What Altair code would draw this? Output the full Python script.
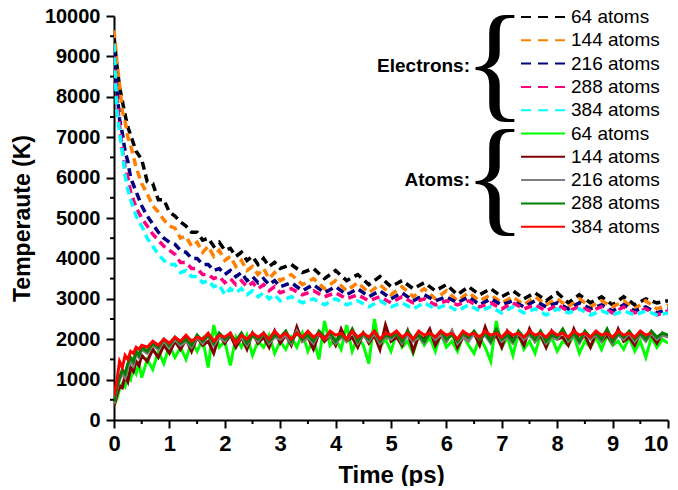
import altair as alt
import pandas as pd

# ---------------- data ----------------
TE = [0, 0.05, 0.1, 0.15, 0.2, 0.25, 0.3, 0.4, 0.5, 0.6, 0.7, 0.8, 0.9, 1.0,
      1.1, 1.2, 1.3, 1.4, 1.5, 1.6, 1.7, 1.8, 1.9, 2.0, 2.1, 2.2, 2.3, 2.4, 2.5,
      2.6, 2.7, 2.8, 2.9, 3.0,
      3.2, 3.4, 3.6, 3.8, 4.0, 4.2, 4.4, 4.6, 4.8, 5.0, 5.2, 5.4, 5.6, 5.8,
      6.0, 6.2, 6.4, 6.6, 6.8, 7.0, 7.2, 7.4, 7.6, 7.8, 8.0, 8.2, 8.4, 8.6,
      8.8, 9.0, 9.2, 9.4, 9.6, 9.8, 10.0]

E64 = [9500, 8800, 8250, 7900, 7550, 7250, 7050, 6650, 6450, 5900, 5850, 5450, 5450, 5150,
       5050, 4900, 4800, 4650, 4650, 4450, 4500, 4300, 4400, 4200, 4250, 4050, 4150, 3950, 4050, 3850, 4000, 3800, 3900, 3750,
       3850, 3650, 3750, 3500, 3700, 3450, 3600, 3350, 3550, 3300, 3450, 3250, 3400, 3200, 3350, 3100, 3300, 3100, 3250, 3050,
       3200, 3000, 3150, 2950, 3150, 2900, 3100, 2900, 3050, 2850, 3050, 2850, 3000, 2900, 2950]
E144 = [9650, 8900, 8300, 7650, 7400, 7000, 6800, 6250, 5850, 5600, 5300, 5150, 4950, 4800,
        4750, 4500, 4550, 4300, 4400, 4150, 4300, 4050, 4200, 3950, 4050, 3800, 3950, 3700, 3800, 3600, 3750, 3500, 3650, 3450,
        3600, 3350, 3500, 3250, 3450, 3200, 3400, 3150, 3350, 3100, 3300, 3050, 3250, 3000, 3200, 2950, 3150, 2950, 3100, 2900,
        3050, 2850, 3050, 2850, 3000, 2800, 3000, 2800, 2950, 2800, 2950, 2750, 2950, 2750, 2850]
E216 = [9100, 8200, 7450, 7100, 6650, 6400, 6000, 5650, 5300, 5050, 4850, 4650, 4500, 4400,
        4350, 4200, 4150, 4000, 4000, 3850, 3850, 3700, 3750, 3600, 3700, 3550, 3650, 3450, 3550, 3400, 3500, 3350, 3450, 3300,
        3400, 3200, 3350, 3150, 3300, 3100, 3250, 3050, 3200, 3000, 3150, 2950, 3100, 2950, 3050, 2900, 3050, 2850, 3000, 2850,
        2950, 2800, 2950, 2800, 2900, 2750, 2900, 2750, 2850, 2700, 2850, 2700, 2800, 2650, 2750]
E288 = [9000, 8000, 7300, 6700, 6250, 6000, 5650, 5250, 5000, 4800, 4600, 4450, 4300, 4200,
        4100, 3900, 3900, 3750, 3750, 3600, 3600, 3500, 3550, 3400, 3500, 3350, 3450, 3300, 3400, 3250, 3350, 3200, 3300, 3150,
        3250, 3100, 3200, 3050, 3150, 3000, 3100, 2950, 3050, 2900, 3050, 2900, 3000, 2850, 2950, 2850, 2950, 2800, 2900, 2750,
        2900, 2750, 2850, 2700, 2850, 2700, 2800, 2700, 2800, 2650, 2800, 2650, 2750, 2600, 2700]
E384 = [9300, 7700, 7100, 6650, 6050, 5700, 5450, 5050, 4800, 4500, 4300, 4100, 3950, 3850,
        3850, 3650, 3700, 3550, 3550, 3400, 3450, 3300, 3350, 3100, 3250, 3150, 3250, 3100, 3200, 3050, 3150, 3000, 3100, 2950,
        3050, 2900, 3000, 2850, 3000, 2850, 2950, 2800, 2950, 2800, 2900, 2750, 2900, 2750, 2850, 2700, 2850, 2700, 2800, 2650,
        2800, 2650, 2750, 2600, 2750, 2650, 2750, 2600, 2700, 2600, 2700, 2600, 2700, 2600, 2650]

TA = [0, 0.05, 0.1, 0.15, 0.2, 0.25, 0.3, 0.35, 0.4, 0.45, 0.5] + [round(0.6 + 0.1 * i, 1) for i in range(95)]

A64 = [350, 520, 760, 900, 820, 1100, 1000, 1300, 1150, 1400, 1050,
       1500, 1250, 1700, 1400, 1850, 1550, 1800, 1500, 1950, 1700,
       2000, 1300, 2350, 1800, 1950, 1350, 2050, 1800, 2100, 1600,
       1950, 1800, 2100, 1650, 1950, 1750, 2050, 1800, 2150, 1700,
       2000, 1500, 2450, 1850, 2000, 1750, 2350, 1700, 2050, 1850,
       1400, 2500, 1800, 2000, 1700, 2150, 1800, 1950, 1650, 2100,
       1850, 2050, 1700, 2150, 1800, 1950, 1700, 2100, 1850, 1650,
       2050, 1800, 1450, 2450, 1800, 2050, 1600, 2150, 1750, 1950,
       1650, 2100, 1800, 2050, 1700, 1950, 1850, 2100, 1650, 1950,
       1800, 2050, 1750, 2100, 1850, 1950, 1750, 2050, 1700, 1950,
       1550, 2050, 1800, 2000, 1900]
A144 = [350, 600, 850, 800, 1100, 950, 1300, 1200, 1450, 1350, 1600,
        1450, 1750, 1550, 1850, 1650, 1950, 1750, 2000, 1700, 2050,
        1850, 1950, 1650, 2100, 1900, 2100, 1800, 2050, 1750, 2150,
        1900, 2050, 1800, 2200, 1900, 2100, 1850, 2300, 1950, 2050,
        1750, 2150, 1950, 2100, 1850, 2250, 1950, 2050, 1800, 2150,
        1900, 2100, 1750, 2350, 1950, 2050, 1850, 2200, 1700, 2100,
        2000, 2250, 1850, 2100, 1950, 2200, 1800, 2050, 2000, 2150,
        1850, 2300, 1950, 2100, 1800, 2200, 2000, 2100, 1850, 2250,
        1950, 2100, 1800, 2200, 2000, 2050, 1850, 2250, 1950, 2100,
        1800, 2150, 1950, 2100, 1900, 2250, 1950, 2050, 1850, 2150,
        2000, 2100, 1900, 2150, 2050]
A216 = [400, 750, 1000, 1150, 1050, 1300, 1450, 1350, 1650, 1550, 1750,
        1650, 1850, 1750, 1950, 1800, 2000, 1850, 1950, 1800, 2050,
        1900, 2100, 1850, 2050, 1950, 2150, 1900, 2050, 1850, 2100,
        1950, 2150, 1900, 2050, 2000, 2100, 1900, 2200, 1950, 2050,
        1900, 2150, 2000, 2100, 1900, 2050, 1950, 2200, 1900, 2100,
        1950, 2150, 1900, 2050, 2000, 2150, 1900, 2100, 1950, 2050,
        1900, 2150, 2000, 2100, 1950, 2200, 1900, 2050, 1950, 2150,
        2000, 2100, 1900, 2200, 1950, 2050, 1900, 2150, 2000, 2100,
        1950, 2150, 1900, 2050, 2000, 2200, 1950, 2100, 1900, 2150,
        2000, 2100, 1950, 2200, 1900, 2100, 2000, 2150, 1950, 2100,
        1950, 2150, 2000, 2100, 2050]
A288 = [450, 800, 1050, 1250, 1150, 1400, 1550, 1450, 1700, 1600, 1800,
        1700, 1900, 1800, 2000, 1850, 2050, 1900, 2000, 1850, 2100,
        1950, 2100, 1900, 2150, 2000, 2100, 1950, 2150, 1900, 2100,
        2000, 2150, 1950, 2100, 2050, 2200, 1950, 2150, 2000, 2100,
        1950, 2200, 2050, 2150, 1950, 2100, 2000, 2250, 1950, 2150,
        2000, 2200, 1950, 2100, 2050, 2150, 1950, 2200, 2000, 2100,
        1950, 2150, 2050, 2200, 2000, 2100, 1950, 2150, 2050, 2200,
        2000, 2150, 1950, 2250, 2000, 2100, 1950, 2200, 2050, 2150,
        2000, 2200, 1950, 2100, 2050, 2250, 2000, 2150, 1950, 2200,
        2050, 2150, 2000, 2250, 1950, 2150, 2050, 2200, 2000, 2150,
        2000, 2200, 2050, 2150, 2100]
A384 = [600, 950, 1450, 1300, 1600, 1500, 1700, 1650, 1800, 1750, 1850,
        1800, 1950, 1850, 2000, 1900, 2050, 1950, 2100, 1950, 2050,
        2000, 2150, 1950, 2100, 2050, 2150, 1900, 2100, 2000, 2150,
        2050, 2150, 2000, 2200, 2050, 2150, 2000, 2150, 2050, 2200,
        2050, 2150, 2000, 2200, 2100, 2150, 2000, 2200, 2050, 2150,
        2050, 2200, 2000, 2150, 2100, 2200, 2050, 2150, 2000, 2200,
        2100, 2150, 2050, 2200, 2100, 2150, 2000, 2200, 2100, 2150,
        2050, 2200, 2100, 2150, 2050, 2200, 2100, 2150, 2050, 2200,
        2100, 2150, 2050, 2200, 2100, 2150, 2050, 2200, 2100, 2150,
        2050, 2200, 2100, 2150, 2050, 2200, 2100, 2150, 2050, 2200,
        2100, 2150]

SIZES = ["64 atoms", "144 atoms", "216 atoms", "288 atoms", "384 atoms"]
E_SERIES = [E64, E144, E216, E288, E384]
A_SERIES = [A64, A144, A216, A288, A384]
E_COLORS = ["#000000", "#ff8000", "#000080", "#ff0080", "#00ffff"]
A_COLORS = ["#00ff00", "#800000", "#808080", "#008000", "#ff0000"]

X_TICKS = list(range(0, 11))
Y_TICKS = list(range(0, 10001, 1000))
X_MINOR = [0.5, 1.5, 2.5, 3.5, 4.5, 5.5, 6.5, 7.5, 8.5, 9.5]
Y_MINOR = [500, 1500, 2500, 3500, 4500, 5500, 6500, 7500, 8500, 9500]

# ---------------- layout ----------------
W, H = 554, 404
FONT = "Liberation Sans"
DASH = [8, 5]

x_scale = alt.Scale(domain=[0, 10], nice=False, zero=False)
y_scale = alt.Scale(domain=[0, 10000], nice=False)

common = dict(domainColor="black", domainWidth=2, tickColor="black", tickWidth=2,
              tickSize=8, labelFont=FONT, labelFontWeight="bold", labelColor="black",
              titleFont=FONT, titleFontWeight="bold", titleColor="black", grid=False,
              labelFlush=False, labelOverlap=False)
x_axis = alt.Axis(values=X_TICKS, format="d", labelFontSize=22, titleFontSize=24,
                  labelPadding=5, titlePadding=9,
                  labelAlign={"condition": {"test": "datum.value >= 10", "value": "right"},
                              "value": "center"},
                  **common)
y_axis = alt.Axis(values=Y_TICKS, format="d", labelFontSize=20, titleFontSize=23,
                  labelPadding=6, titlePadding=10, **common)

X = alt.X("t:Q", scale=x_scale, axis=x_axis, title="Time (ps)")
Y = alt.Y("T:Q", scale=y_scale, axis=y_axis, title="Temperaute (K)")

layers = []
for vals, col in zip(E_SERIES, E_COLORS):
    df = pd.DataFrame({"t": TE[:len(vals)], "T": vals})
    layers.append(alt.Chart(df).mark_line(color=col, strokeWidth=3.5, strokeDash=DASH,
                                          clip=True).encode(x=X, y=Y))
for vals, col in zip(A_SERIES, A_COLORS):
    df = pd.DataFrame({"t": TA[:len(vals)], "T": vals})
    layers.append(alt.Chart(df).mark_line(color=col, strokeWidth=3,
                                          clip=True).encode(x=X, y=Y))

# minor ticks
layers.append(alt.Chart(pd.DataFrame({"t": X_MINOR})).mark_rule(color="black", strokeWidth=2)
              .encode(x=X, y=alt.value(H), y2=alt.value(H + 4)))
layers.append(alt.Chart(pd.DataFrame({"T": Y_MINOR})).mark_rule(color="black", strokeWidth=2)
              .encode(y=Y, x=alt.value(-4), x2=alt.value(0)))

# legend (manual, pixel layout)
dummy = pd.DataFrame({"a": [0]})
ROW0, GAP = 1, 23.3
LX0, LX1, LTX = 407, 451, 457
labels = SIZES + SIZES
colors = E_COLORS + A_COLORS
for i, (lab, col) in enumerate(zip(labels, colors)):
    yy = ROW0 + GAP * i
    kw = dict(color=col, strokeWidth=2)
    if i < 5:
        kw["strokeDash"] = [10, 7]
    layers.append(alt.Chart(dummy).mark_rule(**kw).encode(
        x=alt.value(LX0), x2=alt.value(LX1), y=alt.value(yy)))
    layers.append(alt.Chart(dummy).mark_text(
        text=lab, font=FONT, fontSize=19, color="black", align="left",
        baseline="middle").encode(x=alt.value(LTX), y=alt.value(yy)))

for lab, yc in [("Electrons:", ROW0 + GAP * 2 + 2), ("Atoms:", ROW0 + GAP * 7)]:
    layers.append(alt.Chart(dummy).mark_text(
        text=lab, font=FONT, fontSize=19, fontWeight="bold", color="black",
        align="right", baseline="middle").encode(x=alt.value(356), y=alt.value(yc)))
    layers.append(alt.Chart(dummy).mark_text(
        text="{", font="Liberation Serif", fontSize=130, color="black",
        align="center", baseline="middle").encode(x=alt.value(381), y=alt.value(yc)))

chart = alt.layer(*layers).properties(
    width=W, height=H,
    autosize=alt.AutoSizeParams(type="none"),
    padding={"left": 106, "top": 8, "right": 2, "bottom": 66},
    background="white",
).configure_view(stroke=None)

chart.save("out.html", embed_options={"renderer": "svg", "actions": False})
